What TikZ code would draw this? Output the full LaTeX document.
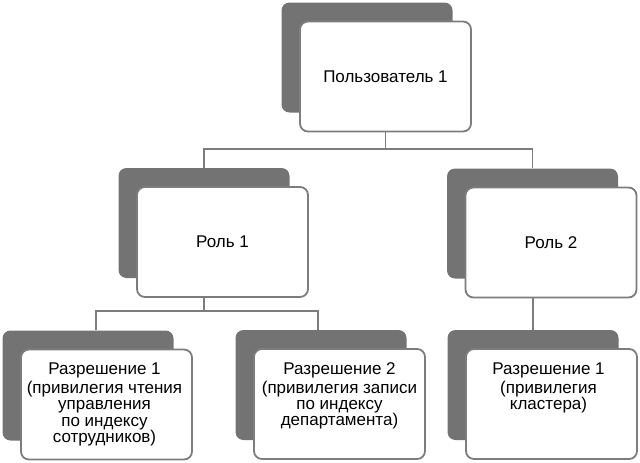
\documentclass[tikz,border=0pt]{standalone}
\usepackage{fontspec}
\setmainfont{Liberation Sans}
\usetikzlibrary{calc}
\definecolor{shadowgray}{HTML}{737373}
\definecolor{linegray}{HTML}{7D7D7D}
\begin{document}
\begin{tikzpicture}[x=1pt,y=-1pt,
  box/.style={draw=linegray, line width=1.8pt, fill=white, rounded corners=8pt,
    minimum width=171pt, minimum height=110pt, inner sep=0pt, align=center,
    font=\fontsize{17}{17}\selectfont},
  shade/.style={fill=shadowgray, draw=none, rounded corners=8pt,
    minimum width=171pt, minimum height=110pt, inner sep=0pt},
  ptext/.style={anchor=north, align=center, inner sep=0pt,
    font=\fontsize{17}{16.2}\selectfont},
  conn/.style={draw=linegray, line width=1.8pt}]
\useasboundingbox (0,0) rectangle (640,463);
% shadows
\node[shade] (us)  at (367,57.5) {};
\node[shade] (r1s) at (204,223) {};
\node[shade] (r2s) at (532.5,223.5) {};
\node[shade] (p1s) at (88,385.5) {};
\node[shade] (p2s) at (321,385) {};
\node[shade] (p3s) at (533,385) {};
% boxes
\node[box] (u)  at (385.5,76.5) {Пользователь 1};
\node[box] (r1) at (222.5,242) {Роль 1};
\node[box] (r2) at (551,242.5) {Роль 2};
\node[box] (p1) at (106.5,404.5) {};
\node[box] (p2) at (339.5,404) {};
\node[box] (p3) at (551.5,404) {};
\node[ptext] (p1t) at ($(p1.north)+(-2,14)$) {Разрешение 1\\[3pt](привилегия чтения\\управления\\по индексу\\сотрудников)};
\node[ptext] (p2t) at ($(p2.north)+(0,14)$) {Разрешение 2\\[3pt](привилегия записи\\по индексу\\департамента)};
\node[ptext] (p3t) at ($(p3.north)+(-3,14)$) {Разрешение 1\\[3pt](привилегия\\кластера)};
% connectors
\draw[conn] (u.south) -- ++(0,16.5) coordinate (j1);
\draw[conn] (r1s.north) |- (j1) -| (r2s.north);
\draw[conn] (r1s.center |- r1.south) -- ++(0,13) coordinate (j2);
\coordinate (b1) at ($(p1s.north)+(8,0)$);
\coordinate (b2) at ($(p2s.north)+(-3,0)$);
\draw[conn] (b1) |- (j2) -| (b2);
\draw[conn] (p3s.north |- r2.south) -- (p3s.north);
\end{tikzpicture}
\end{document}
